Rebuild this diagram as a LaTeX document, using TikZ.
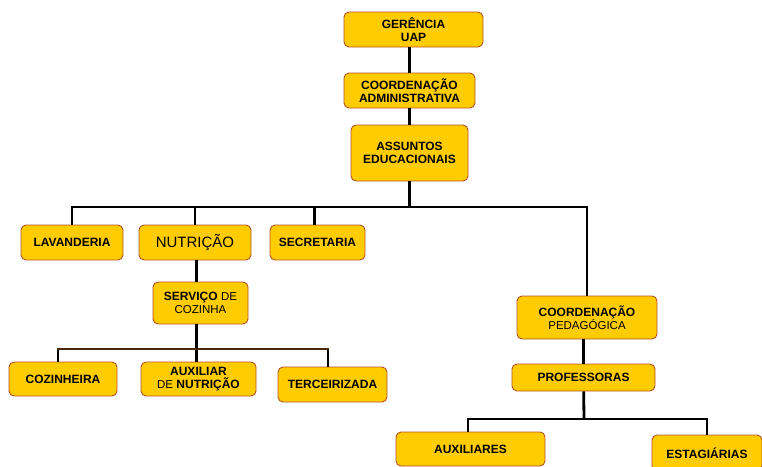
\documentclass[tikz,border=0pt]{standalone}
\usepackage{fontspec}
\setmainfont{Liberation Sans}
\usetikzlibrary{positioning, calc}
\definecolor{amarelo}{HTML}{FFCC00}
\definecolor{borda}{HTML}{B5502A}
\definecolor{marrom}{HTML}{4A2A05}
\newcommand{\leve}{\fontsize{11.5}{13.5}\selectfont\mdseries}

\begin{document}
\begin{tikzpicture}[x=1pt, y=-1pt,
  cargo/.style={draw=borda, fill=amarelo, rounded corners=5pt, line width=0.9pt,
    align=center, inner sep=2pt, font=\fontsize{12}{13.5}\selectfont\bfseries},
  liga/.style={line width=2.8pt, black},
  barra/.style={line width=2.8pt, marrom}]
  \useasboundingbox (0,0) rectangle (762,466);

  % Topo
  \node[cargo, minimum width=139pt, minimum height=35pt] (ger) at (413.5,29.5) {GERÊNCIA\\UAP};
  \node[cargo, minimum width=131pt, minimum height=35pt] (adm) at (409.5,90.5) {COORDENAÇÃO\\ADMINISTRATIVA};
  \node[cargo, minimum width=117pt, minimum height=56pt] (educ) at (409.5,153) {ASSUNTOS\\EDUCACIONAIS};
  \draw[liga] (ger.south -| adm) -- (adm);
  \draw[liga] (adm) -- (educ);

  % Segundo nivel
  \node[cargo, minimum width=102pt, minimum height=35pt] (lav) at (72,242.5) {LAVANDERIA};
  \node[cargo, minimum width=112pt, minimum height=35pt, font=\fontsize{15}{17}\selectfont] (nut) at (195,242.5) {NUTRIÇÃO};
  \node[cargo, minimum width=95pt, minimum height=35pt] (sec) at (317.5,242.5) {SECRETARIA};
  \node[cargo, minimum width=140pt, minimum height=43pt] (cped) at (587,317.5) {COORDENAÇÃO\\{\leve PEDAGÓGICA}};
  \coordinate (bar1) at (409.5,207);
  \draw[liga] (educ) -- (bar1);
  \draw[liga] (lav.north) |- (bar1) -| (cped.north);
  \draw[liga] (nut.north) -- (nut.north |- bar1);
  \draw[liga] ([xshift=-3pt]sec.north) -- ([xshift=-3pt]sec.north |- bar1);

  % Nutricao
  \node[cargo, minimum width=95pt, minimum height=42pt] (serv) at (200.5,303) {SERVIÇO {\leve DE}\\{\leve COZINHA}};
  \node[cargo, minimum width=108pt, minimum height=34pt] (coz) at (63,379) {COZINHEIRA};
  \node[cargo, minimum width=115pt, minimum height=34pt] (aux) at (198.5,379) {AUXILIAR\\{\leve DE} NUTRIÇÃO};
  \node[cargo, minimum width=109pt, minimum height=35pt] (terc) at (332.5,384.5) {TERCEIRIZADA};
  \coordinate (bar2) at (196.5,349);
  \draw[liga] (nut.south -| bar2) -- (serv.north -| bar2);
  \draw[liga] (serv.south -| bar2) -- (aux.north -| bar2);
  \draw[liga] ([xshift=-5pt]coz.north) -- ([xshift=-5pt]coz.north |- bar2);
  \draw[liga] ([xshift=-4.5pt]terc.north) -- ([xshift=-4.5pt]terc.north |- bar2);
  \draw[barra] ([xshift=-6pt]coz.north |- bar2) -- ([xshift=-3.5pt]terc.north |- bar2);

  % Pedagogico
  \node[cargo, minimum width=143pt, minimum height=27pt] (prof) at (583.5,377.5) {PROFESSORAS};
  \node[cargo, minimum width=149pt, minimum height=34pt] (auxs) at (470.5,449) {AUXILIARES};
  \node[cargo, minimum width=110pt, minimum height=36pt] (est) at (707,453) {ESTAGIÁRIAS};
  \coordinate (bar3) at (584,419);
  \draw[liga] (cped.south -| prof) -- (prof);
  \draw[liga] (prof) -- (bar3);
  \draw[liga] ([xshift=-2.5pt]auxs.north) |- (bar3) -| (est.north);
\end{tikzpicture}
\end{document}
